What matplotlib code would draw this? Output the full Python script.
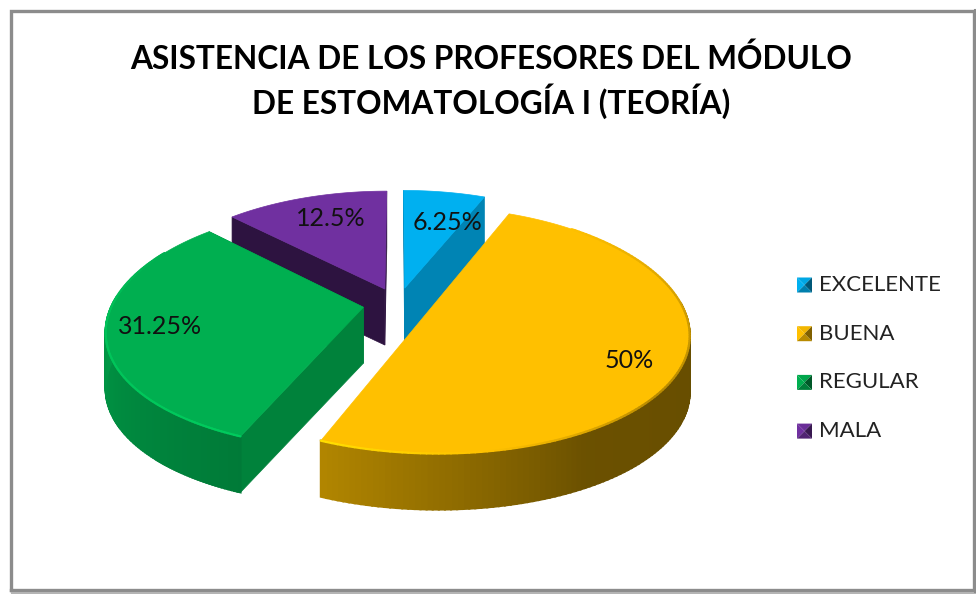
import numpy as np
import matplotlib
matplotlib.use("Agg")
import matplotlib.pyplot as plt
from matplotlib.collections import LineCollection

categories = ["EXCELENTE", "BUENA", "REGULAR", "MALA"]
shares = [6.25, 50, 31.25, 12.5]
colors = ["#00B0F0", "#FFC000", "#00AF50", "#7030A0"]
face_shade = [0.75, 1.0, 0.74, 0.40]
draw_order = [3, 0, 2, 1]

title = "ASISTENCIA DE LOS PROFESORES DEL MÓDULO\nDE ESTOMATOLOGÍA I (TEORÍA)"
font = "Lato"

# perspective of the pie, everything in image pixels
cx, cy = 398, 304
A, B = 251, 118
kx, ky = 0.18, 0.16
explode = 0.14
depth = 56


def project(theta, r, mid):
    u = r * np.sin(theta) + explode * np.sin(mid)
    v = -r * np.cos(theta) - explode * np.cos(mid)
    return cx + A * u / (1 - kx * v), cy + B * v / (1 - ky * v)


def shade(c, s):
    return tuple(np.clip(np.array(matplotlib.colors.to_rgb(c)) * s, 0, 1))


fig = plt.figure(figsize=(9.76, 5.94), dpi=100)
ax = fig.add_axes([0, 0, 1, 1])
ax.set_xlim(0, 976)
ax.set_ylim(594, 0)
ax.axis("off")

# frame
ax.plot([10.5, 10.5, 973.5, 973.5, 10.5], [590, 10.5, 10.5, 590, 590], color="#8c8c8c", lw=2.4, solid_joinstyle="miter")
ax.plot([12, 976], [592.5, 592.5], color="#b4b4b4", lw=1.5)
ax.plot([975.2, 975.2], [10, 592], color="#8c8c8c", lw=1.5)

ends = np.cumsum(shares) / np.sum(shares) * 2 * np.pi
starts = ends - np.array(shares) / np.sum(shares) * 2 * np.pi

for i in draw_order:
    t0, t1 = starts[i], ends[i]
    mid = (t0 + t1) / 2
    col = colors[i]
    t = np.linspace(t0, t1, 160)
    x, y = project(t, 1, mid)
    ax_, ay_ = project(0.0, 0, mid)
    half = abs(t1 - t0 - np.pi) < 1e-6  # half pie: the two edges are one straight line

    # flat sides of the slice
    if not half:
        for te in (t0, t1):
            ex, ey = project(te, 1, mid)
            ax.fill([ax_, ex, ex, ax_], [ay_, ey, ey + depth, ay_ + depth],
                    color=shade(col, face_shade[i]), lw=0.5)

    # curved side, strip by strip
    deg = np.degrees(t)
    s = np.interp(deg, [90, 150, 202.5, 270, 360], [0.40, 0.42, 0.70, 0.87, 0.87])
    for j in range(len(t) - 1):
        if 85 < deg[j] < 275:
            ax.fill([x[j], x[j + 1], x[j + 1], x[j]], [y[j], y[j + 1], y[j + 1] + depth, y[j] + depth],
                    color=shade(col, s[j]), lw=1.5)

    # top
    if half:
        ax.fill(x, y, color=col, lw=0.5)
    else:
        ax.fill(np.r_[ax_, x], np.r_[ay_, y], color=col, lw=0.5)

    # bevel along the front rim
    rim = np.interp(deg, [40, 80, 130, 170, 202.5, 270, 300], [1.0, 0.85, 0.72, 1.0, 1.16, 1.1, 1.0])
    front = (deg > 40) & (deg < 300)
    if front.sum() > 2:
        pts = np.column_stack([x[front], y[front]])
        segs = np.stack([pts[:-1], pts[1:]], axis=1)
        lc = LineCollection(segs, colors=[shade(col, r) for r in rim[front][:-1]], linewidths=1.6, capstyle="round")
        ax.add_collection(lc)

# data labels
label_pos = [(448, 222), (629, 361), (160, 326), (331, 218)]
for v, (lx, ly) in zip(shares, label_pos):
    ax.text(lx, ly, f"{v:g}%", ha="center", va="center", fontsize=18, color="#111111", family=font)

# legend with pyramid keys
for i, name in enumerate(categories):
    yk = 285 + i * 48.7
    c = colors[i]
    h = 7.5
    xk = 804.5
    ax.fill([xk - h, xk + h, xk], [yk - h, yk - h, yk], color=shade(c, 0.95), lw=0)
    ax.fill([xk - h, xk, xk - h], [yk - h, yk, yk + h], color=shade(c, 1.0), lw=0)
    ax.fill([xk + h, xk, xk + h], [yk - h, yk, yk + h], color=shade(c, 0.5), lw=0)
    ax.fill([xk - h, xk + h, xk], [yk + h, yk + h, yk], color=shade(c, 0.72), lw=0)
    ax.text(819, yk, name, ha="left", va="center", fontsize=16, color="#222222", family=font)

ax.text(491, 81, title, ha="center", va="center", fontsize=22.75, fontweight="bold", color="black", family=font, linespacing=1.3)

plt.savefig("out.png", dpi=100)
